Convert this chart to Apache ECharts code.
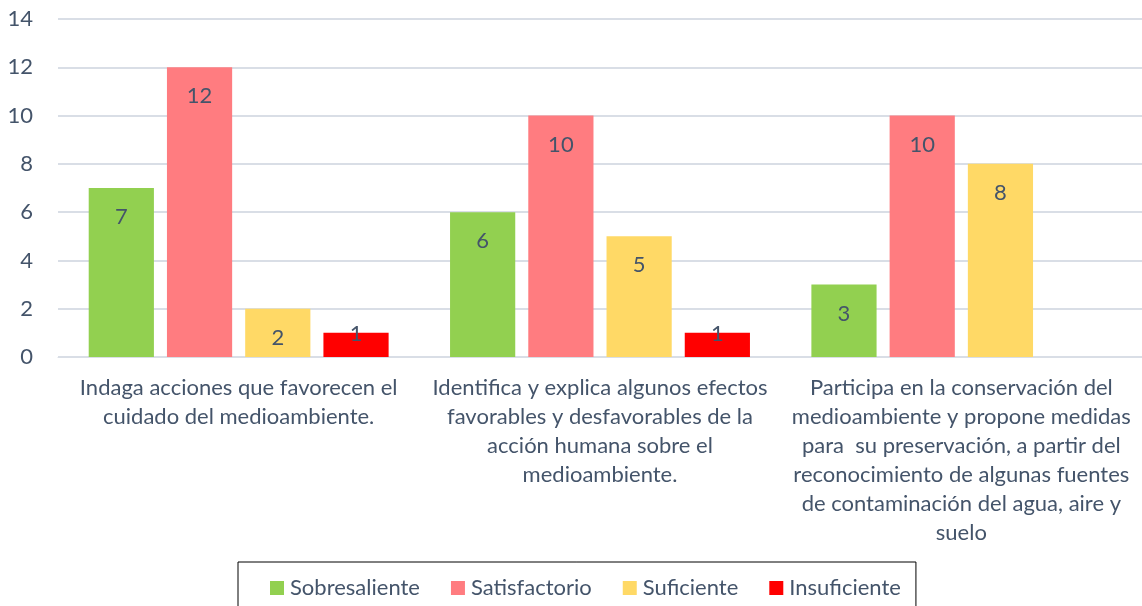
<!DOCTYPE html>
<html>
<head>
<meta charset="utf-8">
<script src="https://cdn.jsdelivr.net/npm/echarts@6/dist/echarts.min.js"></script>
<style>
  html, body { margin: 0; padding: 0; background: #fff; }
  #chart { width: 1142px; height: 606px; }
</style>
</head>
<body>
<div id="chart"></div>
<script>
// categories (line breaks as in the original)
const categories = [
  'Indaga acciones que favorecen el\ncuidado del medioambiente.',
  'Identifica y explica algunos efectos\nfavorables y desfavorables de la\nacción humana sobre el\nmedioambiente.',
  'Participa en la conservación del\nmedioambiente y propone medidas\npara  su preservación, a partir del\nreconocimiento de algunas fuentes\nde contaminación del agua, aire y\nsuelo'
]
const seriesNames = ['Sobresaliente', 'Satisfactorio', 'Suficiente', 'Insuficiente']
const sobresaliente = [7, 6, 3]
const satisfactorio = [12, 10, 10]
const suficiente = [2, 5, 8]
const insuficiente = [1, 1, null]
const colors = ['#92D050', '#FF7C80', '#FFD966', '#FF0000']

const textColor = '#44546A'
const fontFamily = 'Lato, "Open Sans", sans-serif'
const fontSize = 22

const chart = echarts.init(document.getElementById('chart'))

function makeSeries(name, values, color) {
  return {
    name: name,
    type: 'bar',
    barGap: '20%',
    barCategoryGap: '17%',
    itemStyle: { color: color },
    data: values.map(v => {
      if (v === null) return null
      // small bars: the label sits on the bar's top edge
      if (v <= 1) {
        return { value: v, label: { position: 'top', distance: -12 } }
      }
      return v
    }),
    label: {
      show: true,
      position: 'insideTop',
      distance: 18,
      color: textColor,
      fontSize: fontSize,
      fontFamily: fontFamily
    }
  }
}

const option = {
  animation: false,
  grid: { left: 58, right: 0, top: 19, bottom: 249 },
  legend: {
    data: seriesNames,
    left: 238,
    top: 562,
    padding: [15, 15, 20, 32],
    borderColor: '#000',
    borderWidth: 1,
    itemWidth: 14,
    itemHeight: 14,
    itemGap: 31,
    icon: 'rect',
    textStyle: { color: textColor, fontSize: fontSize, fontFamily: fontFamily, padding: [0, 0, 0, 1] }
  },
  xAxis: {
    type: 'category',
    data: categories,
    axisLine: { lineStyle: { color: '#D9DEE6' } },
    axisTick: { show: false },
    axisLabel: {
      color: textColor,
      fontSize: fontSize,
      fontFamily: fontFamily,
      lineHeight: 29,
      margin: 16,
      interval: 0,
      align: 'center'
    }
  },
  yAxis: {
    type: 'value',
    min: 0,
    max: 14,
    interval: 2,
    axisLine: { show: false },
    axisTick: { show: false },
    axisLabel: { color: textColor, fontSize: fontSize, fontFamily: fontFamily, margin: 25 },
    splitLine: { lineStyle: { color: '#D9DEE6', width: 2 } }
  },
  series: [
    makeSeries(seriesNames[0], sobresaliente, colors[0]),
    makeSeries(seriesNames[1], satisfactorio, colors[1]),
    makeSeries(seriesNames[2], suficiente, colors[2]),
    makeSeries(seriesNames[3], insuficiente, colors[3])
  ]
}

chart.setOption(option)
</script>
</body>
</html>
